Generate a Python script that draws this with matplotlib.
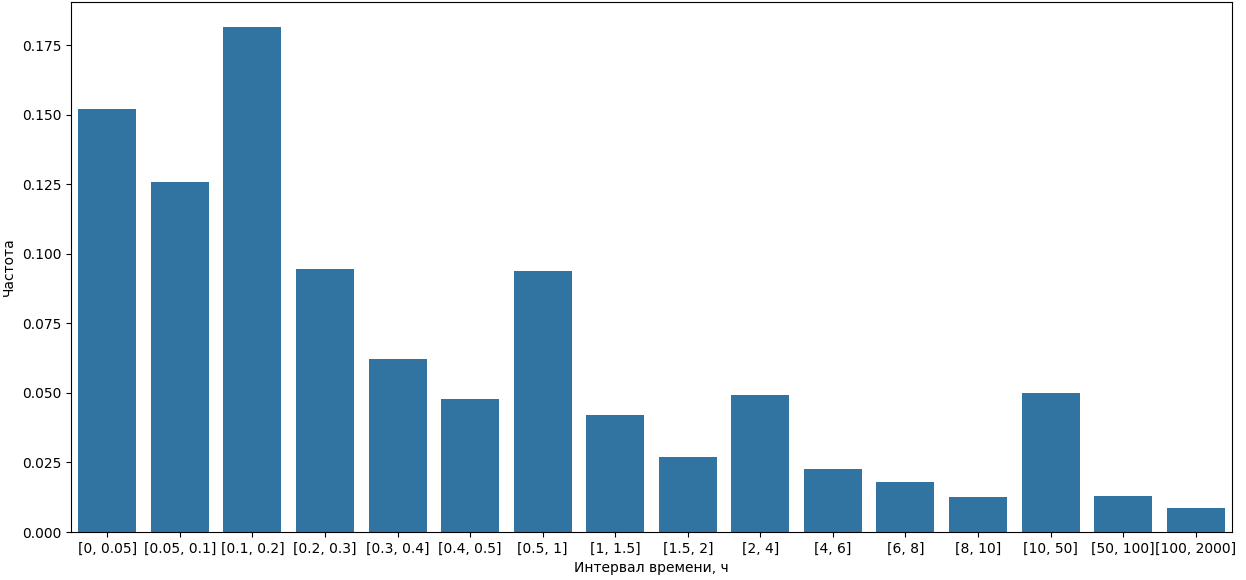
import matplotlib
matplotlib.use("Agg")
import matplotlib.pyplot as plt
import seaborn as sns
import pandas as pd

categories = ["[0, 0.05]", "[0.05, 0.1]", "[0.1, 0.2]", "[0.2, 0.3]", "[0.3, 0.4]",
              "[0.4, 0.5]", "[0.5, 1]", "[1, 1.5]", "[1.5, 2]", "[2, 4]", "[4, 6]",
              "[6, 8]", "[8, 10]", "[10, 50]", "[50, 100]", "[100, 2000]"]
values = [0.1520, 0.1258, 0.1815, 0.0945, 0.0622, 0.0478, 0.0938, 0.0420,
          0.0270, 0.0492, 0.0226, 0.0180, 0.0126, 0.0500, 0.0129, 0.0086]

df = pd.DataFrame({"interval": categories, "freq": values})

fig = plt.figure(figsize=(12.46, 5.8), dpi=100)
ax = fig.add_axes([71/1246, 48/580, (1232-71)/1246, (532-2)/580])
sns.barplot(data=df, x="interval", y="freq", ax=ax, color="C0")
ax.set_xlabel("Интервал времени, ч")
ax.set_ylabel("Частота")
fig.savefig("out.png", dpi=100)
